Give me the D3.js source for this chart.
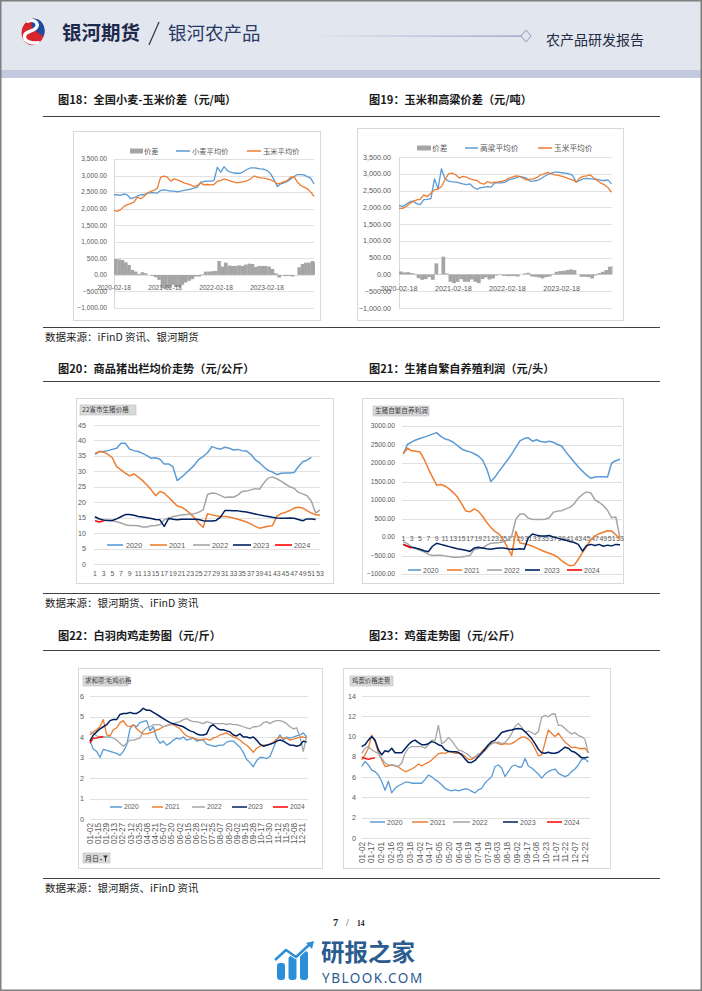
<!DOCTYPE html>
<html><head><meta charset="utf-8">
<script src="https://cdn.jsdelivr.net/npm/d3@7"></script>
<style>
html,body{margin:0;padding:0;background:#fff;}
svg{display:block;}
</style></head><body>
<svg id="page" width="702" height="991"></svg>
<script>
// ---------------- DATA ----------------
const seriesYears = ["2020","2021","2022","2023","2024"];

// Fig 18: wheat vs corn (yuan/ton), evenly spaced samples from 2020-02-18
const c18Wheat = [2420,2420,2400,2450,2420,2300,2330,2380,2420,2420,2470,2480,2480,2470,2550,2570,2550,2530,2530,2510,2530,2550,2570,2590,2620,2650,2800,2820,2830,2830,2850,3250,3100,3270,3150,3100,3070,3070,3070,3130,3190,3230,3230,3220,3200,3190,3150,3050,2870,2670,2750,2780,2820,2900,2970,3030,3030,3020,2970,2920,2750];
const c18Corn = [1950,1920,1970,2070,2120,2150,2200,2350,2300,2370,2470,2520,2550,2620,2950,2980,2950,2830,2900,2870,2830,2780,2750,2720,2670,2700,2780,2720,2730,2720,2730,2830,2850,2900,2870,2830,2800,2780,2800,2820,2850,2900,2990,2950,2930,2920,2900,2870,2820,2750,2770,2820,2850,2950,2970,2800,2700,2650,2600,2500,2370];
const c18Spread = [480,470,450,380,300,150,100,30,80,50,0,-30,-70,-150,-400,-410,-400,-300,-370,-360,-300,-230,-180,-130,-50,-50,20,100,100,110,120,420,250,370,280,270,270,290,270,310,340,330,240,270,270,270,250,180,50,-80,-20,-40,-30,-50,0,230,330,370,370,420,380];
const c18Legend = ["价差","小麦平均价","玉米平均价"];

// Fig 19: sorghum vs corn (yuan/ton)
const c19Sorghum = [2060,2030,2090,2160,2190,2110,2080,2230,2240,2260,2850,2550,3150,2850,2780,2760,2750,2730,2700,2680,2700,2600,2540,2580,2600,2620,2600,2720,2740,2730,2750,2820,2850,2880,2920,2900,2870,2780,2780,2800,2850,2920,2980,3020,3050,3050,3030,3020,3000,2950,2750,2800,2850,2860,2850,2840,2830,2800,2800,2820,2700];
const c19Corn = [1970,1970,2020,2120,2170,2220,2240,2370,2320,2420,2520,2540,2620,2820,3000,3020,2970,2870,2920,2900,2850,2820,2800,2720,2690,2770,2720,2750,2750,2770,2800,2870,2900,2940,2920,2870,2820,2840,2850,2890,2970,3000,3040,3000,2970,2950,2920,2890,2850,2820,2750,2870,2920,2940,2970,2870,2790,2720,2670,2590,2450];
const c19Spread = [90,60,70,40,20,-110,-160,-140,-80,-160,330,10,530,30,-220,-260,-220,-140,-220,-220,-150,-220,-260,-140,-90,-150,-120,-30,-10,-40,-50,-50,-50,-60,0,30,50,-60,-70,-90,-120,-80,-60,20,80,100,110,130,150,130,0,-70,-70,-80,-120,-30,40,80,130,230,250];
const c19Legend = ["价差","高粱平均价","玉米平均价"];
const timeTickLabels = ["2020-02-18","2021-02-18","2022-02-18","2023-02-18"];

// Fig 20: hog price by week (yuan/kg)
const c20Weeks = d3.range(1, 54);
const c20 = [
 [35.5,36.4,36.4,36.7,37.1,37.5,39.1,39.1,37.2,36.7,36.4,35.8,35.1,34.2,34.4,33.9,32.4,32.4,31.5,27,28.1,29.4,30.7,32.1,33.9,34.8,36,38,37.5,37.2,37.8,37.5,36.9,37.1,36.7,36.6,35.5,33.8,32.8,31.5,30.3,29.8,28.9,29.4,29.5,29.5,29.6,31.5,33.1,33.6,34.5],
 [35.8,36.4,36.2,35.5,34.4,31.5,30.5,29.4,28.5,29.2,28.1,27,25.6,24,22.1,23.5,22.9,21.6,20.2,18.8,18.4,17.5,16.3,14.9,13.2,11.9,16.3,15.9,15.6,15.4,15.4,15.2,14.9,14.5,14.1,13.6,13,12.2,11.6,11.9,12.2,12.4,15.4,16.3,16.7,17.3,18.1,18.4,18.1,17.3,16.5,15.9,15.9],
 [15,14.5,14.3,14.2,14,13.7,13.3,12.7,12.5,12.5,12.4,12,12,12.4,12.5,12.7,14.3,14.8,15.3,15.6,15.9,16,16.1,16.3,16.8,17.5,22.5,23,22.8,22.2,21.5,21.7,21.6,22.3,23.5,23.6,24,24.4,24.2,26.2,27.8,28.2,27.6,26.8,25.9,25,24.5,23.2,22.7,22.1,20.3,16.5,17.5],
 [15.3,14.6,14.2,14.1,14.1,14.6,15.3,16,16,15.8,15.4,15.2,15,14.7,14.4,14.3,12.2,14.7,14.5,14.3,14.5,14.5,14.5,14.5,14.4,14,13.9,13.9,14.1,15.2,17.3,17.3,17.2,17.2,17,16.8,16.5,16.2,15.9,15.6,15.4,15.1,14.9,14.8,14.8,14.9,14.8,14.4,14,14.6,14.6,14.4],
 [14,13.6,14]
];

// Fig 21: self-breeding hog profit by week (yuan/head)
const c21 = [
 [2250,2500,2570,2620,2660,2700,2740,2780,2820,2720,2650,2620,2560,2470,2380,2330,2300,2250,2190,2080,1850,1500,1620,1780,1930,2080,2240,2420,2600,2660,2680,2590,2630,2580,2560,2590,2560,2500,2460,2300,2160,2030,1900,1780,1670,1590,1620,1630,1630,1620,2000,2060,2100],
 [2250,2400,2330,2320,2300,2100,1850,1620,1400,1420,1380,1300,1200,1080,900,700,680,760,700,560,400,260,150,80,-80,-280,-500,150,-160,-180,-210,-250,-300,-350,-400,-440,-480,-540,-640,-720,-780,-760,-600,-420,-250,-80,30,90,130,170,160,60,-60],
 [-130,-180,-280,-320,-360,-400,-470,-500,-490,-490,-510,-530,-550,-550,-540,-520,-500,-340,-310,-300,-220,-170,-160,-150,-130,-90,20,480,620,620,510,480,470,470,480,520,670,700,710,760,800,900,1050,1150,1220,1190,1000,940,850,720,520,540,-30],
 [-200,-250,-280,-300,-330,-370,-400,-250,-170,-200,-230,-260,-290,-320,-340,-360,-390,-300,-280,-300,-320,-330,-310,-300,-300,-320,-330,-330,-320,-330,-20,80,50,30,30,40,0,-30,-60,-90,-120,-150,-200,-380,-230,-200,-230,-200,-250,-220,-240,-200,-210],
 [-200,-250,-300]
];

// Fig 22: white-feather broiler (yuan/jin), samples ~2.45 per label interval
const c22Labels = ["01-02","01-15","01-29","02-13","02-27","03-12","03-25","04-08","04-21","05-07","05-20","06-02","06-15","06-28","07-12","07-25","08-07","08-20","09-02","09-15","09-28","10-17","10-30","11-12","11-25","12-08","12-21"];
const c22 = [
 [3.8,3.4,3.3,3.0,3.4,3.35,3.3,3.25,3.2,3.1,3.3,3.6,4.4,4.6,4.5,4.7,4.75,4.8,4.3,4.5,3.95,3.7,3.8,3.6,3.7,3.85,3.95,3.9,4.0,3.85,3.9,3.95,3.8,3.85,3.85,3.65,3.6,3.55,3.55,3.6,3.6,3.75,3.8,3.8,3.65,3.5,3.25,2.9,2.75,2.55,2.85,3.0,3.0,2.95,3.05,3.45,3.85,4.1,3.85,4.0,3.95,4.0,4.05,4.1,4.2,4.0],
 [4.1,4.25,4.35,4.5,4.85,4.1,4.05,4.35,4.45,4.7,4.8,4.55,4.5,4.6,4.4,4.25,4.15,4.15,4.2,4.25,4.35,4.4,4.5,4.55,4.6,4.6,4.5,4.4,4.2,4.05,4.0,3.95,3.9,3.85,3.9,3.9,3.85,3.95,4.0,4.1,4.15,4.2,4.1,4.0,3.95,3.85,3.7,3.6,3.45,3.25,3.45,3.55,3.6,3.6,3.65,3.75,3.9,4.0,3.95,3.95,3.85,3.9,3.95,4.0,4.0,3.95],
 [4.25,4.2,4.05,4.0,4.0,4.0,4.0,3.95,3.85,3.7,3.55,3.7,3.85,3.85,3.9,3.95,4.3,4.45,4.5,4.6,4.6,4.6,4.5,4.55,4.6,4.65,4.7,4.75,4.85,4.9,4.8,4.75,4.75,4.7,4.65,4.75,4.7,4.65,4.65,4.65,4.65,4.6,4.65,4.6,4.6,4.55,4.5,4.45,4.4,4.5,4.5,4.55,4.7,4.75,4.65,4.75,4.8,4.8,4.75,4.65,4.5,4.4,4.45,4.0,3.3,4.05],
 [3.8,4.1,4.25,4.4,4.5,4.6,4.8,4.85,4.85,5.1,5.15,5.15,5.2,5.15,5.15,5.25,5.4,5.3,5.3,5.2,5.1,5.0,4.9,4.8,4.7,4.65,4.6,4.55,4.5,4.4,4.3,4.25,4.15,4.1,4.1,4.15,4.5,4.6,4.45,4.35,4.35,4.3,4.25,4.1,4.05,4.15,4.0,4.0,3.95,4.0,3.85,3.65,3.55,3.6,3.65,3.7,3.8,3.85,3.8,3.7,3.6,3.6,3.55,3.6,3.8,3.75],
 [3.7,3.95,3.95,4.0,4.0]
];

// Fig 23: eggs (yuan/kg), samples ~2.91 per label interval
const c23Labels = ["01-02","01-17","02-01","02-16","03-03","03-18","04-02","04-17","05-05","05-20","06-04","06-19","07-04","07-19","08-03","08-18","09-02","09-17","10-08","10-23","11-07","11-22","12-07","12-22"];
const c23 = [
 [7.05,7.55,7.2,6.7,6.55,6.2,5.6,4.7,5.6,4.45,4.9,5.15,5.3,5.5,5.5,5.4,5.4,5.4,5.4,5.75,6.2,6.05,5.75,5.55,5.25,4.9,4.75,4.65,4.75,4.65,4.75,4.85,4.8,4.6,4.45,4.75,4.9,5.4,5.75,6.05,7.05,7.2,6.9,6.05,6.55,7.05,7.2,7.0,7.0,7.85,7.1,6.9,6.6,6.3,5.9,6.3,6.55,6.7,6.8,6.4,6.2,6.05,6.2,6.55,6.8,7.2,7.75,7.8,7.5],
 [7.7,8.2,8.85,10.15,9.5,8.4,7.7,7.05,7.1,7.2,7.1,7.0,6.75,6.55,6.65,6.8,7.0,7.3,7.1,7.3,7.45,7.7,8.0,8.3,8.4,8.35,8.5,8.5,8.35,8.35,8.3,8.05,7.75,7.75,7.95,8.1,8.5,8.85,9.1,9.3,9.45,9.3,9.2,9.3,9.25,9.3,9.5,9.75,9.95,9.95,9.75,9.4,8.8,8.1,8.2,9.4,10.65,10.3,10.0,10.35,9.9,9.45,9.2,8.9,8.95,8.85,8.8,8.85,8.4],
 [8.35,8.85,9.0,8.7,8.5,8.35,7.85,7.4,7.2,7.2,7.15,7.05,7.4,8.35,8.85,9.0,9.0,9.0,9.0,8.85,9.2,9.65,9.6,11.1,9.3,9.5,9.9,9.6,9.1,8.7,8.6,8.4,8.2,7.9,8.0,8.3,8.4,8.6,9.0,9.3,9.4,9.45,9.3,9.4,9.8,10.3,11.0,11.3,10.9,10.4,10.55,10.4,10.2,10.5,11.9,12.1,11.95,12.2,12.25,11.1,11.1,10.8,10.5,10.25,10.4,10.1,10.0,9.7,8.4],
 [9.0,9.2,9.65,10.0,9.65,8.7,8.2,8.6,8.5,8.85,8.4,8.4,8.4,8.8,9.2,9.5,9.65,9.4,9.2,9.2,9.3,9.5,9.4,9.2,9.1,8.7,8.55,8.5,8.5,8.45,8.2,7.8,7.45,7.45,7.65,8.0,8.35,8.75,9.2,9.5,9.65,10.0,10.4,10.5,10.6,10.65,10.75,10.8,10.75,10.5,10.15,9.8,9.3,8.75,8.4,8.35,8.45,8.35,8.35,8.45,8.7,8.95,8.85,8.55,8.45,8.2,7.9,7.9,8.0],
 [7.95,7.85,7.75,7.85,7.9]
];

// ---------------- STYLE ----------------
const CJK = '"Noto Sans CJK SC","Liberation Sans",sans-serif';
const NUM = '"Liberation Sans","Noto Sans CJK SC",sans-serif';
const yearColors = ["#5b9bd5","#ed7d31","#a5a5a5","#002060","#ff0000"];
const BLUE = "#5b9bd5", ORANGE = "#ed7d31", GRAY = "#a5a5a5";
const GRID = "#d9d9d9", LBL = "#595959";

const svg = d3.select("#page");

function txt(g, x, y, s, o = {}) {
  return g.append("text").attr("x", x).attr("y", y).text(s)
    .attr("font-family", o.ff || CJK).attr("font-size", o.fs || 10)
    .attr("font-weight", o.fw || 400).attr("fill", o.fill || "#222")
    .attr("text-anchor", o.anchor || "start");
}
function hline(g, x1, x2, y, c, w) {
  g.append("line").attr("x1", x1).attr("x2", x2).attr("y1", y).attr("y2", y)
    .attr("stroke", c).attr("stroke-width", w || 1);
}
function box(g, x, y, w, h) {
  g.append("rect").attr("x", x + .5).attr("y", y + .5).attr("width", w).attr("height", h)
    .attr("fill", "#fff").attr("stroke", "#d9d9d9");
}
function grid(g, y, ticks, x1, x2) {
  ticks.forEach(t => hline(g, x1, x2, Math.round(y(t)) + .5, GRID, 0.8));
}
function yLabels(g, y, ticks, xr, fmt, fs) {
  ticks.forEach(t => txt(g, xr, y(t) + fs * 0.35, fmt(t), {ff: NUM, fs: fs, fill: LBL, anchor: "end"}));
}
function path(g, data, xf, yf, color, w) {
  const line = d3.line().defined(d => d != null).x((d, i) => xf(i)).y(d => yf(d)).curve(d3.curveLinear);
  g.append("path").datum(data).attr("d", line).attr("fill", "none")
    .attr("stroke", color).attr("stroke-width", w).attr("stroke-linejoin", "round");
}
function legLine(g, x1, x2, y, color, label, tx, fs, w, ff) {
  hline(g, x1, x2, y, color, w || 1.6);
  txt(g, tx, y + fs * 0.36, label, {ff: ff || NUM, fs: fs, fill: LBL});
}
function fieldBtn(g, x, y, w, h, label, fs) {
  g.append("rect").attr("x", x).attr("y", y).attr("width", w).attr("height", h)
    .attr("fill", "#d9d9d9").attr("stroke", "#bfbfbf").attr("stroke-width", .6);
  txt(g, x + 2, y + h / 2 + fs * 0.36, label, {fs: fs, fill: "#404040"});
}

// ---------------- PAGE FRAME & HEADER ----------------
svg.append("rect").attr("x", 0).attr("y", 0).attr("width", 702).attr("height", 991).attr("fill", "#fff");
svg.append("rect").attr("x", 0).attr("y", 0).attr("width", 702).attr("height", 71).attr("fill", "#e2e6ef");
svg.append("rect").attr("x", 0).attr("y", 70).attr("width", 702).attr("height", 8).attr("fill", "#c3c9df");

// logo (red / blue swirl)
const logo = svg.append("g").attr("transform", "translate(33,32) rotate(15)");
const clip = svg.append("defs").append("clipPath").attr("id", "lc");
clip.append("ellipse").attr("rx", 11.5).attr("ry", 13.5);
const lg = logo.append("g").attr("clip-path", "url(#lc)");
lg.append("ellipse").attr("rx", 11.5).attr("ry", 13.5).attr("fill", "#d8262e");
lg.append("path").attr("d", "M-4,-16 L16,-16 L16,4 C10,1 5,-1 1,-2 C-3,-3 -5,-9 -4,-16 Z").attr("fill", "#1d4b9e");
lg.append("path").attr("d", "M-8,-9 C-4,-13 4,-11 2,-5 C0,0 -9,1 -7,7 C-6,11 1,12 8,9")
  .attr("fill", "none").attr("stroke", "#fff").attr("stroke-width", 3.4).attr("stroke-linecap", "round");

txt(svg, 62, 40, "银河期货", {fs: 19.5, fw: 700, fill: "#1e2a4a"});
svg.append("line").attr("x1", 159).attr("y1", 22).attr("x2", 149).attr("y2", 45).attr("stroke", "#333").attr("stroke-width", 1.2);
txt(svg, 168, 40, "银河农产品", {fs: 18.5, fill: "#2a3a66"});
const grad = svg.append("defs").append("linearGradient").attr("id", "hg");
grad.append("stop").attr("offset", "0%").attr("stop-color", "#e2e6ef");
grad.append("stop").attr("offset", "100%").attr("stop-color", "#8e99c2");
svg.append("rect").attr("x", 310).attr("y", 35.5).attr("width", 211).attr("height", 1.2).attr("fill", "url(#hg)");
svg.append("path").attr("d", "M526,30 L531,36 L526,42 L521,36 Z").attr("fill", "#e2e6ef").attr("stroke", "#8e99c2").attr("stroke-width", 1);
txt(svg, 546, 45, "农产品研发报告", {fs: 14, fill: "#1f2a44"});

// sections: titles, rules and sources
const sections = [
  {t1: "图18：全国小麦-玉米价差（元/吨）", t2: "图19：玉米和高粱价差（元/吨）", ty: 104, top: 116, bot: 327, src: "数据来源：iFinD 资讯、银河期货"},
  {t1: "图20：商品猪出栏均价走势（元/公斤）", t2: "图21：生猪自繁自养殖利润（元/头）", ty: 373, top: 381, bot: 593, src: "数据来源：银河期货、iFinD 资讯"},
  {t1: "图22：白羽肉鸡走势图（元/斤）", t2: "图23：鸡蛋走势图（元/公斤）", ty: 640, top: 650, bot: 878, src: "数据来源：银河期货、iFinD 资讯"}
];
sections.forEach(s => {
  txt(svg, 58, s.ty, s.t1, {fs: 11.2, fw: 700, fill: "#1a1a1a"});
  txt(svg, 369, s.ty, s.t2, {fs: 11.2, fw: 700, fill: "#1a1a1a"});
  hline(svg, 43, 660, s.top + .5, "#404040", 1.2);
  hline(svg, 43, 660, s.bot + .5, "#404040", 1);
  txt(svg, 45, s.bot + 14, s.src, {fs: 10.5, fill: "#222"});
});

// ---------------- CHARTS 18 & 19 ----------------
const sampleDates = c18Wheat.map((d, i) => d3.timeDay.offset(new Date(2020, 1, 18), Math.round(i * 23.87)));
const ticks1 = d3.range(-1000, 3501, 500);

function spreadChart(cfg) {
  const g = svg.append("g");
  box(g, cfg.box[0], cfg.box[1], cfg.box[2], cfg.box[3]);
  const x = d3.scaleTime().domain([sampleDates[0], sampleDates[sampleDates.length - 1]]).range(cfg.xr);
  const y = d3.scaleLinear().domain([-1000, 3500]).range(cfg.yr);
  grid(g, y, ticks1, cfg.xr[0], cfg.xr[1]);
  g.append("line").attr("x1", cfg.xr[0] + .5).attr("x2", cfg.xr[0] + .5).attr("y1", y(3500)).attr("y2", y(-1000)).attr("stroke", GRID);
  yLabels(g, y, ticks1, cfg.ylx, d3.format(",.2f"), cfg.fs);
  const bw = x(sampleDates[1]) - x(sampleDates[0]);
  g.selectAll(null).data(cfg.spread).enter().append("rect")
    .attr("x", (d, i) => x(sampleDates[i]))
    .attr("width", (d, i) => i === cfg.spread.length - 1 ? 1 : bw + .2)
    .attr("y", d => y(Math.max(0, d))).attr("height", d => Math.abs(y(d) - y(0)))
    .attr("fill", GRAY);
  timeTickLabels.forEach(s => {
    txt(g, x(d3.timeParse("%Y-%m-%d")(s)), cfg.xly, s, {ff: NUM, fs: cfg.fs, fill: LBL, anchor: "middle"});
  });
  path(g, cfg.a, i => x(sampleDates[i]), y, BLUE, 1.3);
  path(g, cfg.b, i => x(sampleDates[i]), y, ORANGE, 1.3);
  const L = cfg.leg;
  g.append("rect").attr("x", L[0]).attr("y", L[6] - 2.5).attr("width", L[1] - L[0]).attr("height", 5).attr("fill", GRAY);
  txt(g, L[1] + 1, L[6] + cfg.lfs * .36, cfg.legend[0], {fs: cfg.lfs, fill: LBL});
  legLine(g, L[2], L[3], L[6], BLUE, cfg.legend[1], L[3] + 2, cfg.lfs, 1.5, CJK);
  legLine(g, L[4], L[5], L[6], ORANGE, cfg.legend[2], L[5] + 2, cfg.lfs, 1.5, CJK);
}
spreadChart({box: [73, 131, 247, 189], xr: [114, 314], yr: [308, 159], ylx: 107, xly: 290, fs: 6.6, lfs: 7.3,
  spread: c18Spread, a: c18Wheat, b: c18Corn, legend: c18Legend, leg: [130, 143, 176, 190, 247, 261, 151]});
spreadChart({box: [357, 128, 266, 192], xr: [399, 611.5], yr: [308, 157], ylx: 391, xly: 290.5, fs: 7.2, lfs: 7.7,
  spread: c19Spread, a: c19Sorghum, b: c19Corn, legend: c19Legend, leg: [417, 431, 465, 478, 538, 552, 148]});

// ---------------- CHARTS 20 & 21 (weekly) ----------------
function weeklyChart(cfg) {
  const g = svg.append("g");
  box(g, cfg.box[0], cfg.box[1], cfg.box[2], cfg.box[3]);
  fieldBtn(g, cfg.btn[0], cfg.btn[1], cfg.btn[2], cfg.btn[3], cfg.title, 6.6);
  const x = d3.scalePoint().domain(c20Weeks).range(cfg.xr);
  const y = d3.scaleLinear().domain(cfg.dom).range(cfg.yr);
  grid(g, y, cfg.ticks, cfg.gx[0], cfg.gx[1]);
  yLabels(g, y, cfg.ticks, cfg.ylx, cfg.fmt, cfg.fs);
  c20Weeks.filter(w => w % 2 === 1).forEach(w => {
    txt(g, x(w), cfg.xly, String(w), {ff: NUM, fs: 6.9, fill: LBL, anchor: "middle"});
  });
  cfg.data.forEach((s, k) => path(g, s, i => x(c20Weeks[i]), y, yearColors[k], 1.5));
  seriesYears.forEach((yr, k) => legLine(g, cfg.leg[k][0], cfg.leg[k][1], cfg.legY, yearColors[k], yr, cfg.leg[k][2], cfg.lfs, 1.6));
}
weeklyChart({box: [76, 398, 257, 185], btn: [80, 405, 56, 10], title: "22省市生猪价格",
  xr: [95, 320], dom: [0, 45], yr: [564, 425], ticks: d3.range(0, 46, 5), gx: [94, 320], ylx: 86,
  fmt: d3.format("d"), fs: 7.2, xly: 576, data: c20, legY: 545, lfs: 7.3,
  leg: [[107, 123, 126], [150, 167, 169], [193, 210, 212], [233, 251, 253], [275, 292, 294]]});
weeklyChart({box: [362, 398, 261, 185], btn: [373, 406, 56, 10], title: "生猪自繁自养利润",
  xr: [403.3, 620], dom: [-1000, 3000], yr: [574, 426], ticks: d3.range(-1000, 3001, 500), gx: [402, 622], ylx: 395,
  fmt: d3.format(".2f"), fs: 6.7, xly: 541, data: c21, legY: 570, lfs: 7,
  leg: [[408, 421, 423], [447, 462, 464], [487, 502, 504], [525, 540, 544], [567, 582, 584]]});

// ---------------- CHARTS 22 & 23 (daily, category axis) ----------------
function dailyChart(cfg) {
  const g = svg.append("g");
  box(g, cfg.box[0], cfg.box[1], cfg.box[2], cfg.box[3]);
  fieldBtn(g, cfg.btn[0], cfg.btn[1], cfg.btn[2], cfg.btn[3], cfg.title, 6.4);
  const x = d3.scaleLinear().domain([0, cfg.labels.length - 1]).range(cfg.xr);
  const y = d3.scaleLinear().domain(cfg.dom).range(cfg.yr);
  grid(g, y, cfg.ticks, cfg.gx[0], cfg.gx[1]);
  yLabels(g, y, cfg.ticks, cfg.ylx, d3.format("d"), 7.2);
  cfg.labels.forEach((s, j) => {
    g.append("text").text(s).attr("transform", `translate(${x(j) + 2.8},${cfg.xly}) rotate(-90)`)
      .attr("font-family", NUM).attr("font-size", 8.2).attr("fill", LBL).attr("text-anchor", "end");
  });
  cfg.data.forEach((s, k) => path(g, s, i => x(i / cfg.spl), y, yearColors[k], k === 3 ? 1.5 : 1.3));
  seriesYears.forEach((yr, k) => legLine(g, cfg.leg[k][0], cfg.leg[k][1], cfg.legY, yearColors[k], yr, cfg.leg[k][2], cfg.lfs, 1.5));
  return g;
}
const g22 = dailyChart({box: [78, 668, 244, 200], btn: [83, 676, 45, 10], title: "求和项:毛鸡价格",
  labels: c22Labels, xr: [90, 302.3], dom: [0, 6], yr: [819, 696], ticks: d3.range(0, 7, 1), gx: [90, 308], ylx: 84,
  xly: 823, data: c22, spl: 2.45, legY: 807, lfs: 6.6,
  leg: [[110, 122, 124], [152, 163, 165], [192, 205, 207], [232, 247, 248], [273, 288, 290]]});
// pivot filter button
g22.append("rect").attr("x", 83).attr("y", 853).attr("width", 27).attr("height", 10)
  .attr("fill", "#d9d9d9").attr("stroke", "#bfbfbf").attr("stroke-width", .6);
txt(g22, 85, 861, "月日", {fs: 7, fill: "#333"});
g22.append("path").attr("d", "M100,859 l2,0 l-1,1.6 z").attr("fill", "#333");
g22.append("path").attr("d", "M103,855.5 l5,0 l-2,2.6 l0,3 l-1,0.8 l0,-3.8 z").attr("fill", "#333");

dailyChart({box: [343, 668, 267, 200], btn: [350, 676, 43, 10], title: "鸡蛋价格走势",
  labels: c23Labels, xr: [361.7, 585], dom: [0, 14], yr: [838, 696], ticks: d3.range(0, 15, 2), gx: [362, 590], ylx: 356,
  xly: 842, data: c23, spl: 2.913, legY: 822, lfs: 7,
  leg: [[370, 385, 387], [412, 428, 430], [453, 470, 472], [503, 518, 520], [547, 562, 564]]});

// ---------------- FOOTER ----------------
txt(svg, 333, 926, "7", {ff: '"Liberation Serif",serif', fs: 10.5, fw: 700, fill: "#222"});
txt(svg, 346, 926, "/", {ff: '"Liberation Serif",serif', fs: 10, fill: "#333"});
txt(svg, 357, 926, "14", {ff: '"Liberation Serif",serif', fs: 7.5, fw: 700, fill: "#222"});

const wm = svg.append("g");
[[277, 963, 8, 17], [288.5, 956, 8, 24], [300, 951, 8, 29]].forEach(b => {
  wm.append("rect").attr("x", b[0]).attr("y", b[1]).attr("width", b[2]).attr("height", b[3]).attr("rx", 3).attr("fill", "#2a8fd8");
});
wm.append("path").attr("d", "M275,960 L286,950 L296,957 L310,944").attr("fill", "none")
  .attr("stroke", "#fff").attr("stroke-width", 4.5).attr("stroke-linejoin", "round");
wm.append("path").attr("d", "M275,960 L286,950 L296,957 L309,945").attr("fill", "none")
  .attr("stroke", "#2a8fd8").attr("stroke-width", 2.5).attr("stroke-linejoin", "round");
wm.append("path").attr("d", "M314,941 L306,943 L312,949 Z").attr("fill", "#2a8fd8");
txt(wm, 321, 961, "研报之家", {fs: 23.5, fw: 700, fill: "#2b5c90"});
txt(wm, 322, 983, "YBLOOK.COM", {ff: '"Noto Sans","Liberation Sans",sans-serif', fs: 13.5, fill: "#2b5c90"}).attr("letter-spacing", 1.5);

// page frame
svg.append("rect").attr("x", 0.75).attr("y", 0.75).attr("width", 700.5).attr("height", 989.5)
  .attr("fill", "none").attr("stroke", "#7f7f7f").attr("stroke-width", 1.5);
</script>
</body></html>
